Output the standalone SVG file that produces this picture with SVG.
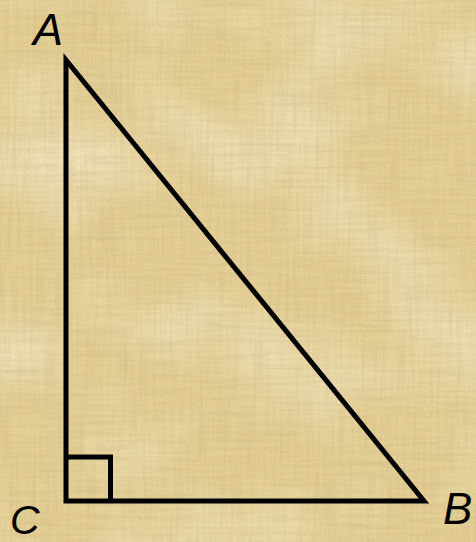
<svg xmlns="http://www.w3.org/2000/svg" width="476" height="542" viewBox="0 0 476 542">
  <defs>
    <filter id="papyrus" x="0" y="0" width="100%" height="100%">
      <feTurbulence type="fractalNoise" baseFrequency="0.3 0.015" numOctaves="3" seed="4" result="v"/>
      <feTurbulence type="fractalNoise" baseFrequency="0.015 0.3" numOctaves="3" seed="9" result="h"/>
      <feBlend in="v" in2="h" mode="multiply" result="n"/>
      <feColorMatrix in="n" type="matrix" values="0 0 0 0 0.55  0 0 0 0 0.42  0 0 0 0 0.2  -1.6 0 0 0 0.9" result="tint"/>
      <feComposite in="tint" in2="SourceGraphic" operator="in"/>
    </filter>
    <filter id="light" x="0" y="0" width="100%" height="100%">
      <feTurbulence type="fractalNoise" baseFrequency="0.008 0.01" numOctaves="2" seed="2" result="b"/>
      <feColorMatrix in="b" type="matrix" values="0 0 0 0 1  0 0 0 0 0.97  0 0 0 0 0.85  1.6 0 0 0 -0.7"/>
      <feComposite in2="SourceGraphic" operator="in"/>
    </filter>
    <style>
      .edge { fill: none; stroke: #000; stroke-width: 5; stroke-linejoin: miter; stroke-miterlimit: 10; }
      .lbl { font-family: "Liberation Sans", Arial, sans-serif; font-style: italic; fill: #000; }
    </style>
  </defs>
  <g id="background">
    <rect width="476" height="542" fill="#e4cf95"/>
    <rect width="476" height="542" fill="#fff" filter="url(#light)" opacity="0.6"/>
    <rect width="476" height="542" fill="#fff" filter="url(#papyrus)" opacity="0.55"/>
  </g>
  <g id="triangle">
    <polygon class="edge" points="66,60 66,501 424,501"/>
    <polyline class="edge" points="66,457 110.5,457 110.5,501"/>
  </g>
  <g id="labels">
    <text class="lbl" x="33" y="45" font-size="45">A</text>
    <text class="lbl" x="10" y="534" font-size="41">C</text>
    <text class="lbl" x="443" y="524" font-size="44">B</text>
  </g>
</svg>
